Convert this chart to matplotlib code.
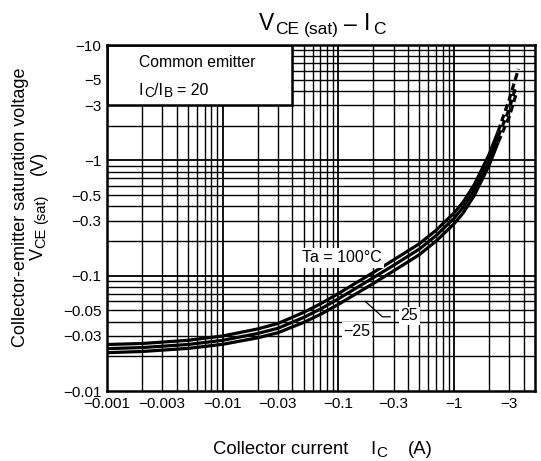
import matplotlib
matplotlib.use("Agg")
import matplotlib.pyplot as plt
from matplotlib.patches import Rectangle

plt.rcParams['font.family'] = ['Liberation Sans', 'DejaVu Sans']

# ---- data (magnitudes; chart shows negative values) ----
ic = [0.001, 0.002, 0.005, 0.01, 0.02, 0.03, 0.05, 0.07, 0.1, 0.15, 0.2, 0.3, 0.5, 0.7, 1.0, 1.2, 1.5, 2.0, 2.4]
v_100 = [0.0253, 0.0258, 0.0275, 0.0300, 0.0345, 0.0385, 0.0480, 0.0570, 0.0700, 0.0895, 0.1065, 0.137, 0.189, 0.248, 0.350, 0.436, 0.62, 1.12, 1.78]
v_25 = [0.0233, 0.0238, 0.0253, 0.0275, 0.0315, 0.0350, 0.0434, 0.0514, 0.0630, 0.0806, 0.0960, 0.123, 0.170, 0.223, 0.315, 0.392, 0.558, 1.01, 1.60]
v_m25 = [0.0215, 0.0220, 0.0234, 0.0254, 0.0289, 0.0320, 0.0393, 0.0462, 0.0564, 0.0720, 0.0855, 0.110, 0.152, 0.200, 0.282, 0.351, 0.50, 0.90, 1.43]

ic_dash_100 = [2.4, 3.0, 3.6]
v_dash_100 = [1.78, 3.4, 6.2]
ic_dash_25 = [2.4, 3.0, 3.4]
v_dash_25 = [1.60, 2.8, 4.3]
ic_dash_m25 = [2.4, 3.0, 3.5]
v_dash_m25 = [1.43, 2.4, 4.0]

x_ticks = [0.001, 0.003, 0.01, 0.03, 0.1, 0.3, 1, 3]
x_labels = ["\u22120.001", "\u22120.003", "\u22120.01", "\u22120.03", "\u22120.1", "\u22120.3", "\u22121", "\u22123"]
y_ticks = [10, 5, 3, 1, 0.5, 0.3, 0.1, 0.05, 0.03, 0.01]
y_labels = ["\u221210", "\u22125", "\u22123", "\u22121", "\u22120.5", "\u22120.3", "\u22120.1", "\u22120.05", "\u22120.03", "\u22120.01"]

W, H = 541, 461
fig = plt.figure(figsize=(W / 100, H / 100), dpi=100)
renderer = fig.canvas.get_renderer()


def rich(x, y, parts, rotation=0, zorder=5):
    """parts: (text, size_pt, drop_px, gap_before_px). x,y = start of baseline in px from top-left."""
    pos = 0.0
    for txt, size, drop, gap in parts:
        pos += gap
        if rotation == 0:
            px, py = x + pos, y + drop
        else:
            px, py = x + drop, y - pos
        t = fig.text(px / W, 1 - py / H, txt, fontsize=size, ha='left', va='baseline',
                     rotation=rotation, rotation_mode='anchor', zorder=zorder)
        bb = t.get_window_extent(renderer)
        pos += bb.width if rotation == 0 else bb.height


ax = fig.add_axes([107 / W, 1 - 391 / H, (535 - 107) / W, (391 - 45) / H])
ax.set_xscale('log')
ax.set_yscale('log')
ax.set_xlim(0.001, 5)
ax.set_ylim(0.01, 10)

# grid lines at every 1..9 multiple
for dec in [0.001, 0.01, 0.1, 1]:
    for m in range(1, 10):
        xv = dec * m
        if 0.001 < xv < 5:
            ax.axvline(xv, color='black', lw=1.3 if m == 1 else 1.0, zorder=1)
for dec in [0.01, 0.1, 1]:
    for m in range(1, 10):
        yv = dec * m
        if 0.01 < yv < 10:
            ax.axhline(yv, color='black', lw=1.3 if m == 1 else 1.0, zorder=1)

for v in (v_100, v_25, v_m25):
    ax.plot(ic, v, color='black', lw=2.3, zorder=3, solid_capstyle='butt', solid_joinstyle='round')
for xs, v in ((ic_dash_100, v_dash_100), (ic_dash_25, v_dash_25), (ic_dash_m25, v_dash_m25)):
    ax.plot(xs, v, color='black', lw=2.3, zorder=3, linestyle=(0, (2.2, 1.2)))

# condition box
ax.add_patch(Rectangle((0.001, 3), 0.04 - 0.001, 7, facecolor='white', edgecolor='black',
                       lw=1.8, zorder=4))

ax.text(0.0484, 0.143, "Ta = 100\u00b0C", fontsize=11.5, va='center', ha='left', zorder=5,
        bbox=dict(facecolor='white', edgecolor='none', pad=2))
ax.text(0.41, 0.045, "25", fontsize=11.5, va='center', ha='center', zorder=5,
        bbox=dict(facecolor='white', edgecolor='none', pad=1))
ax.text(0.145, 0.033, "\u221225", fontsize=11.5, va='center', ha='center', zorder=5,
        bbox=dict(facecolor='white', edgecolor='none', pad=1))
ax.plot([0.17, 0.24, 0.28], [0.060, 0.044, 0.044], color='black', lw=0.9, zorder=5)

ax.set_xticks(x_ticks)
ax.set_xticklabels(x_labels)
ax.set_yticks(y_ticks)
ax.set_yticklabels(y_labels)
ax.minorticks_off()
ax.tick_params(length=0, labelsize=11, pad=4)
for s in ax.spines.values():
    s.set_linewidth(1.8)
    s.set_zorder(6)

# box texts
rich(139, 67, [("Common emitter", 11.3, 0, 0)], zorder=10)
rich(139, 95, [("I", 11.5, 0, 0), ("C", 9.8, 2.3, 0.5), ("/I", 11.5, 0, 0.5),
               ("B", 9.8, 2.3, 0.5), ("= 20", 11.5, 0, 4)], zorder=10)

# title
rich(259, 30.5, [("V", 16.5, 0, 0), ("CE", 12.5, 3.5, 0.5), ("(sat)", 12.5, 3.5, 5),
                 ("\u2013", 16.5, 0, 5), ("I", 16.5, 0, 7), ("C", 12.5, 3.5, 3.5)])

# x label
rich(213, 454, [("Collector current", 13.3, 0, 0), ("I", 13.3, 0, 22), ("C", 11, 3, 1),
                ("(A)", 13.3, 0, 20)])

# y labels
rich(25, 347, [("Collector-emitter saturation voltage", 13, 0, 0)], rotation=90)
rich(43, 260, [("V", 13, 0, 0), ("CE", 10.5, 2.5, 0.5), ("(sat)", 10.5, 2.5, 3.5),
               ("(V)", 13, 0, 19)], rotation=90)

fig.savefig("out.png", dpi=100)
